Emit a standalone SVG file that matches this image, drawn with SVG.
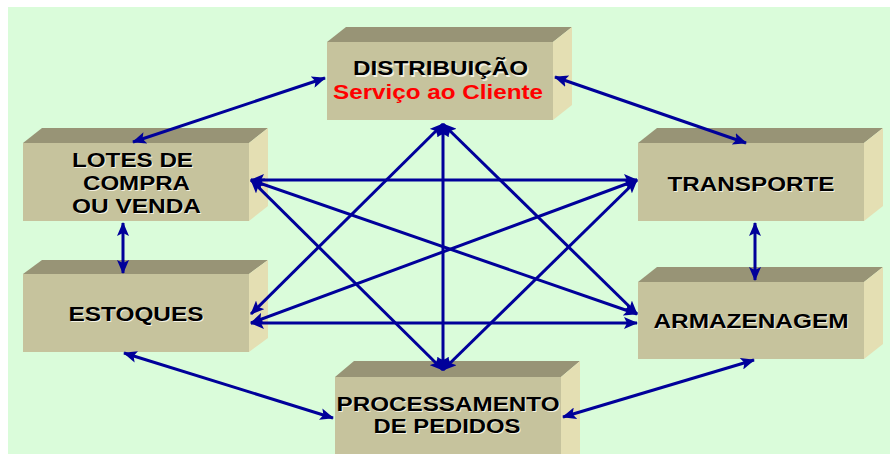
<svg xmlns="http://www.w3.org/2000/svg" width="890" height="454" viewBox="0 0 890 454">
<defs>
<style>
.front{fill:#C6C39D}
.top{fill:#989476}
.side{fill:#E4DFB3}
.lbl{font-family:"Liberation Sans",Arial,sans-serif;font-weight:bold;font-size:20px;fill:#000;text-anchor:start}
.sh{fill:#F4F2E4}
.red{fill:#FF0000}
.con{stroke:#00009A;stroke-width:3;fill:none;marker-start:url(#ah);marker-end:url(#ah)}
</style>
<marker id="ah" markerUnits="userSpaceOnUse" markerWidth="14" markerHeight="12" viewBox="0 0 14 12" refX="13" refY="6" orient="auto-start-reverse">
<path d="M0,0 L14,6 L0,12 L3,6 Z" fill="#00009A"/>
</marker>
</defs>
<rect x="0" y="0" width="890" height="454" fill="#FFFFFF"/>
<rect x="8" y="7" width="882" height="447" fill="#DAFCDA"/>

<g id="distribuicao">
<polygon class="top" points="327,42 346,27 572,27 553,42"/>
<polygon class="side" points="553,42 572,27 572,105 553,120"/>
<rect class="front" x="327" y="42" width="226" height="78"/>
<text class="lbl sh" x="354.5" y="76.5" font-size="18.5" textLength="175" lengthAdjust="spacingAndGlyphs">DISTRIBUIÇÃO</text>
<text class="lbl" x="353" y="75" font-size="18.5" textLength="175" lengthAdjust="spacingAndGlyphs">DISTRIBUIÇÃO</text>
<text class="lbl red" x="333" y="99" font-size="18.5" textLength="210" lengthAdjust="spacingAndGlyphs">Serviço ao Cliente</text>
</g>

<g id="lotes">
<polygon class="top" points="23,143 42,128 268,128 249,143"/>
<polygon class="side" points="249,143 268,128 268,206 249,221"/>
<rect class="front" x="23" y="143" width="226" height="78"/>
<text class="lbl sh" x="73" y="168" textLength="121" lengthAdjust="spacingAndGlyphs">LOTES DE</text>
<text class="lbl" x="72" y="167" textLength="121" lengthAdjust="spacingAndGlyphs">LOTES DE</text>
<text class="lbl sh" x="84" y="190.5" textLength="107" lengthAdjust="spacingAndGlyphs">COMPRA</text>
<text class="lbl" x="83" y="189.5" textLength="107" lengthAdjust="spacingAndGlyphs">COMPRA</text>
<text class="lbl sh" x="73" y="213.5" textLength="129" lengthAdjust="spacingAndGlyphs">OU VENDA</text>
<text class="lbl" x="72" y="212.5" textLength="129" lengthAdjust="spacingAndGlyphs">OU VENDA</text>
</g>

<g id="estoques">
<polygon class="top" points="23,274 42,260 268,260 249,274"/>
<polygon class="side" points="249,274 268,260 268,338 249,352"/>
<rect class="front" x="23" y="274" width="226" height="78"/>
<text class="lbl sh" x="69.5" y="321.5" textLength="135" lengthAdjust="spacingAndGlyphs">ESTOQUES</text>
<text class="lbl" x="68.5" y="320.5" textLength="135" lengthAdjust="spacingAndGlyphs">ESTOQUES</text>
</g>

<g id="transporte">
<polygon class="top" points="638,143 657,128 883,128 864,143"/>
<polygon class="side" points="864,143 883,128 883,206 864,221"/>
<rect class="front" x="638" y="143" width="226" height="78"/>
<text class="lbl sh" x="668.5" y="191.5" textLength="167" lengthAdjust="spacingAndGlyphs">TRANSPORTE</text>
<text class="lbl" x="667.5" y="190.5" textLength="167" lengthAdjust="spacingAndGlyphs">TRANSPORTE</text>
</g>

<g id="armazenagem">
<polygon class="top" points="638,282 657,267 883,267 864,282"/>
<polygon class="side" points="864,282 883,267 883,344 864,359"/>
<rect class="front" x="638" y="282" width="226" height="77"/>
<text class="lbl sh" x="654.5" y="328.5" textLength="195" lengthAdjust="spacingAndGlyphs">ARMAZENAGEM</text>
<text class="lbl" x="653.5" y="327.5" textLength="195" lengthAdjust="spacingAndGlyphs">ARMAZENAGEM</text>
</g>

<g id="processamento">
<polygon class="top" points="335,377 354,361 580,361 561,377"/>
<polygon class="side" points="561,377 580,361 580,470 561,470"/>
<rect class="front" x="335" y="377" width="226" height="90"/>
<text class="lbl sh" x="337.5" y="411.5" textLength="223" lengthAdjust="spacingAndGlyphs">PROCESSAMENTO</text>
<text class="lbl" x="336.5" y="410.5" textLength="223" lengthAdjust="spacingAndGlyphs">PROCESSAMENTO</text>
<text class="lbl sh" x="374.5" y="433.5" textLength="147" lengthAdjust="spacingAndGlyphs">DE PEDIDOS</text>
<text class="lbl" x="373.5" y="432.5" textLength="147" lengthAdjust="spacingAndGlyphs">DE PEDIDOS</text>
</g>

<g id="connectors">
<line class="con" x1="325" y1="78" x2="133" y2="142"/>
<line class="con" x1="555" y1="77" x2="746" y2="143"/>
<line class="con" x1="123" y1="223" x2="123" y2="273"/>
<line class="con" x1="755" y1="223" x2="755" y2="280"/>
<line class="con" x1="124" y1="353" x2="333" y2="418"/>
<line class="con" x1="754" y1="360" x2="563" y2="417"/>
<line class="con" x1="443" y1="124" x2="443" y2="370"/>
<line class="con" x1="443" y1="124" x2="251" y2="314"/>
<line class="con" x1="443" y1="124" x2="637" y2="314"/>
<line class="con" x1="251" y1="180" x2="637" y2="180"/>
<line class="con" x1="251" y1="180" x2="637" y2="314"/>
<line class="con" x1="251" y1="180" x2="443" y2="370"/>
<line class="con" x1="637" y1="180" x2="251" y2="323"/>
<line class="con" x1="637" y1="180" x2="443" y2="370"/>
<line class="con" x1="251" y1="323" x2="637" y2="323"/>
</g>
</svg>
